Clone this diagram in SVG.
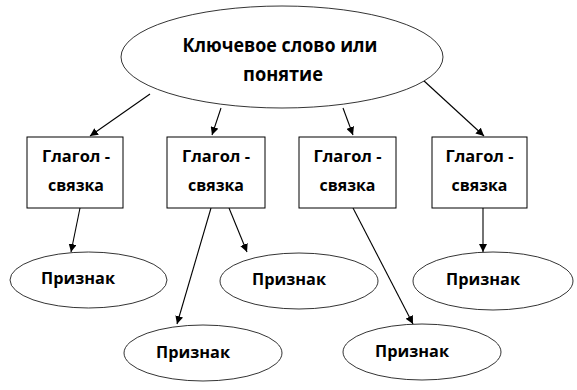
<svg xmlns="http://www.w3.org/2000/svg" width="577" height="390" viewBox="0 0 577 390">
<defs>
<style>
.shape{fill:#fff;stroke:#000;stroke-width:1}
.oval{fill:#fff;stroke:#000;stroke-width:0.8}
text{font-family:"Open Sans","Liberation Sans",sans-serif;font-weight:bold;fill:#000;text-anchor:middle}
.big{font-size:20px}
.mid{font-size:16.5px}
.conn line{stroke:#000;stroke-width:1.1;marker-end:url(#ah)}
</style>
<marker id="ah" viewBox="0 0 10 10" refX="10" refY="5" markerWidth="8" markerHeight="8" markerUnits="userSpaceOnUse" orient="auto">
<path d="M0,0 L10,5 L0,10 Z" fill="#000"/>
</marker>
</defs>
<rect width="577" height="390" fill="#fff"/>
<g id="conn" class="conn">
<line x1="150" y1="94" x2="90" y2="136"/>
<line x1="221" y1="108" x2="212" y2="135"/>
<line x1="343" y1="108" x2="353" y2="135"/>
<line x1="423" y1="80" x2="484" y2="136"/>
<line x1="80" y1="208" x2="71" y2="252"/>
<line x1="211" y1="208" x2="177" y2="324"/>
<line x1="229" y1="208" x2="247" y2="252"/>
<line x1="353" y1="208" x2="413" y2="324"/>
<line x1="483" y1="208" x2="483" y2="252"/>
</g>
<g id="main">
<ellipse class="oval" cx="282" cy="57" rx="161" ry="51"/>
<text class="big" x="280" y="52" textLength="195" lengthAdjust="spacingAndGlyphs">Ключевое слово или</text>
<text class="big" x="283" y="81" textLength="80" lengthAdjust="spacingAndGlyphs">понятие</text>
</g>
<g id="r1">
<rect class="shape" x="27" y="137" width="96" height="71"/>
<text class="mid" x="76" y="162" textLength="68" lengthAdjust="spacingAndGlyphs">Глагол -</text>
<text class="mid" x="76" y="191" textLength="56" lengthAdjust="spacingAndGlyphs">связка</text>
</g>
<g id="r2">
<rect class="shape" x="167" y="137" width="98" height="71"/>
<text class="mid" x="216" y="162" textLength="68" lengthAdjust="spacingAndGlyphs">Глагол -</text>
<text class="mid" x="216" y="191" textLength="56" lengthAdjust="spacingAndGlyphs">связка</text>
</g>
<g id="r3">
<rect class="shape" x="299" y="137" width="97" height="71"/>
<text class="mid" x="347.5" y="162" textLength="68" lengthAdjust="spacingAndGlyphs">Глагол -</text>
<text class="mid" x="347.5" y="191" textLength="56" lengthAdjust="spacingAndGlyphs">связка</text>
</g>
<g id="r4">
<rect class="shape" x="432" y="137" width="95" height="71"/>
<text class="mid" x="479.5" y="162" textLength="68" lengthAdjust="spacingAndGlyphs">Глагол -</text>
<text class="mid" x="479.5" y="191" textLength="56" lengthAdjust="spacingAndGlyphs">связка</text>
</g>
<g id="e1">
<ellipse class="oval" cx="88.5" cy="280" rx="78.5" ry="28"/>
<text class="mid" x="78" y="284" textLength="74" lengthAdjust="spacingAndGlyphs">Признак</text>
</g>
<g id="e2">
<ellipse class="oval" cx="299" cy="281" rx="79" ry="28"/>
<text class="mid" x="289" y="285" textLength="74" lengthAdjust="spacingAndGlyphs">Признак</text>
</g>
<g id="e3">
<ellipse class="oval" cx="203" cy="353" rx="79" ry="28"/>
<text class="mid" x="193" y="358" textLength="74" lengthAdjust="spacingAndGlyphs">Признак</text>
</g>
<g id="e4">
<ellipse class="oval" cx="422" cy="352" rx="79" ry="28"/>
<text class="mid" x="412" y="357" textLength="74" lengthAdjust="spacingAndGlyphs">Признак</text>
</g>
<g id="e5">
<ellipse class="oval" cx="493" cy="281" rx="80" ry="29"/>
<text class="mid" x="483" y="285" textLength="74" lengthAdjust="spacingAndGlyphs">Признак</text>
</g>
</svg>
